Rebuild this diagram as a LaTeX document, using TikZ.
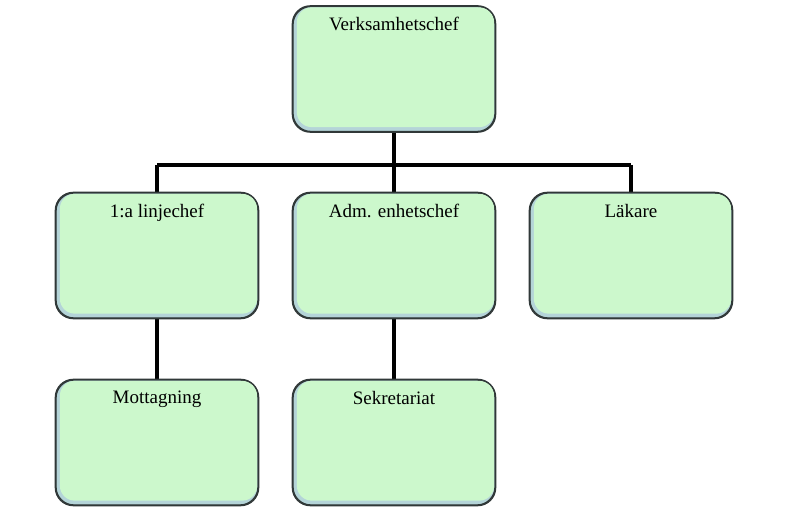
\documentclass[tikz,border=0pt]{standalone}
\usepackage{fontspec}
\setmainfont{Liberation Serif}
\usetikzlibrary{calc}
\definecolor{boxgreen}{HTML}{CCF8CC}
\definecolor{boxblue}{HTML}{B4D4D8}
\definecolor{boxline}{HTML}{303838}
\tikzset{
 orgbox/.style={draw=boxline, line width=1.3pt, rounded corners=18pt, fill=boxblue,
   minimum width=202pt, minimum height=125pt, inner sep=0pt},
 conn/.style={line width=3.2pt, black},
 lbl/.style={font=\fontsize{19}{22}\selectfont, anchor=north}
}
\newcommand{\orgnode}[4]{%
 \node[orgbox] (#1) at (#2,#3) {};
 \fill[boxgreen, rounded corners=15pt] ($(#1.south west)+(4.5pt,5pt)$) rectangle ($(#1.north east)+(-1.5pt,-1.5pt)$);
 \draw[boxline, line width=1.3pt, rounded corners=18pt] (#1.south west) rectangle (#1.north east);
 \node[lbl] (#1t) at ($(#1.north)+(0,-8pt)$) {#4};
}
\begin{document}
\begin{tikzpicture}[x=1pt,y=1pt]
\useasboundingbox[fill=white] (0,0) rectangle (798,530);
\coordinate (hub) at (394,365);
\coordinate (hl) at (157,365);
\coordinate (hr) at (631,365);
\draw[conn] (394,400) -- (hub);
\draw[conn] (hl) -- (hr);
\draw[conn] (hl) -- (157,330);
\draw[conn] (hub) -- (394,330);
\draw[conn] (hr) -- (631,330);
\draw[conn] (157,220) -- (157,140);
\draw[conn] (394,220) -- (394,140);
\orgnode{top}{394}{461}{Verksamhetschef}
\orgnode{lin}{157}{274.5}{1:a linjechef}
\orgnode{adm}{394}{274.5}{Adm. enhetschef}
\orgnode{lak}{631}{274.5}{Läkare}
\orgnode{mot}{157}{87.5}{Mottagning}
\orgnode{sek}{394}{87.5}{Sekretariat}
\end{tikzpicture}
\end{document}
